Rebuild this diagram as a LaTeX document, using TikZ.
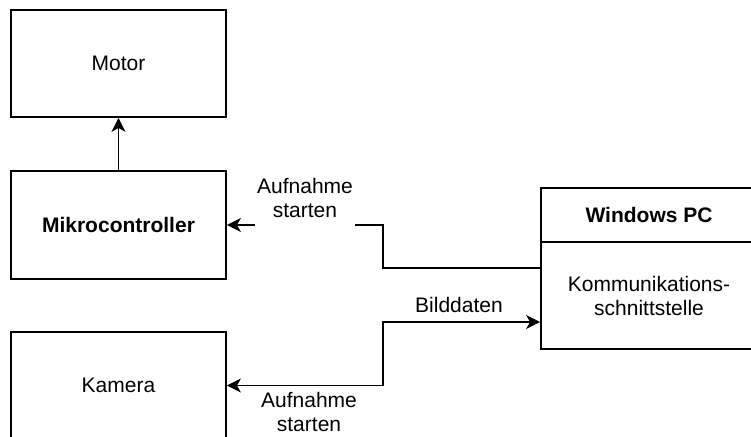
\documentclass[tikz,border=0pt]{standalone}
\usepackage{fontspec}
\setmainfont{Liberation Sans}
\usetikzlibrary{positioning, arrows.meta}

\begin{document}
\begin{tikzpicture}[x=1pt, y=-1pt,
    block/.style={draw, line width=1.8pt, minimum width=215pt, minimum height=107pt,
                  align=center, inner sep=0pt, font=\fontsize{21}{24}\selectfont},
    lbl/.style={align=center, inner xsep=2pt, inner ysep=3pt, font=\fontsize{21}{24}\selectfont},
    conn/.style={line width=1.8pt, -{Stealth[length=14pt, width=14pt, inset=4pt]}},
    bothconn/.style={line width=1.8pt, {Stealth[length=14pt, width=14pt, inset=4pt]}-{Stealth[length=14pt, width=14pt, inset=4pt]}}]
    \clip (0,0) rectangle (751,436);

    \node[block] (motor) at (118.5,63.5) {Motor};
    \node[block, minimum height=108pt] (mc) at (118.5,225) {\textbf{Mikrocontroller}};
    \node[block] (cam) at (118.5,385.5) {Kamera};
    \node[block, minimum width=216pt, minimum height=54pt] (pchead) at (649,215) {\textbf{Windows PC}};
    \node[block, minimum width=216pt] (pcbody) at (649,295.5) {Kommunikations-\\schnittstelle};

    \coordinate (pcout) at ([yshift=27.5pt]pcbody.west);
    \coordinate (pcin) at ([yshift=-26.5pt]pcbody.west);
    \coordinate (bendA) at (383,225);
    \coordinate (bendB) at (383,385.5);

    \draw[conn] (mc) -- (motor);
    \draw[conn] (pcout) -| (bendA) -- (mc.east);
    \draw[bothconn] (cam.east) -- (bendB) |- (pcin);

    \node[lbl, fill=white] (startmc) at (305,201) {\strut Aufnahme\\\strut starten};
    \node[lbl] (bilddaten) at (459,308) {\strut Bilddaten};
    \node[lbl] (startcam) at (309,415) {\strut Aufnahme\\\strut starten};
\end{tikzpicture}
\end{document}
